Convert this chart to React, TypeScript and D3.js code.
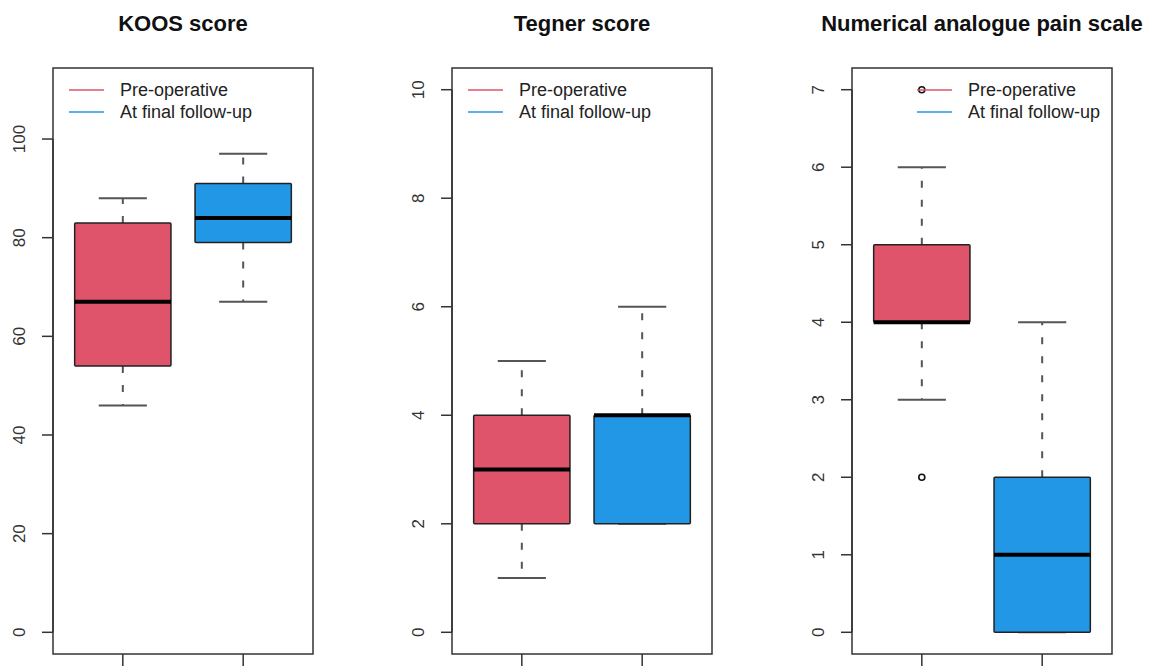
import React from 'react';
import * as d3 from 'd3';

// group labels and colours
const groups = ['Pre-operative', 'At final follow-up'];
const fills = ['#DF536B', '#2297E6'];

// five-number summaries: [lowWhisker, q1, median, q3, highWhisker]
const koosStats = [
  [46, 54, 67, 83, 88],
  [67, 79, 84, 91, 97],
];
const tegnerStats = [
  [1, 2, 3, 4, 5],
  [2, 2, 4, 4, 6],
];
const painStats = [
  [3, 4, 4, 5, 6],
  [0, 0, 1, 2, 4],
];

// outliers per group
const koosOut: number[][] = [[], []];
const tegnerOut: number[][] = [[], []];
const painOut: number[][] = [[2, 7], []];

const koosTicks = [0, 20, 40, 60, 80, 100];
const tegnerTicks = [0, 2, 4, 6, 8, 10];
const painTicks = [0, 1, 2, 3, 4, 5, 6, 7];

const panels = [
  { title: 'KOOS score', stats: koosStats, out: koosOut, ticks: koosTicks, ylim: [0, 110], left: 53, legend: 'left' },
  { title: 'Tegner score', stats: tegnerStats, out: tegnerOut, ticks: tegnerTicks, ylim: [0, 10], left: 452, legend: 'left' },
  { title: 'Numerical analogue pain scale', stats: painStats, out: painOut, ticks: painTicks, ylim: [0, 7], left: 852, legend: 'right' },
];

const W = 1151;
const H = 666;
const PW = 260;
const TOP = 68;
const BOTTOM = 654;
const FONT = '"Liberation Sans", Arial, sans-serif';

const Panel: React.FC<{ p: typeof panels[number] }> = ({ p }) => {
  const r = p.ylim[1] - p.ylim[0];
  const y = d3.scaleLinear()
    .domain([p.ylim[0] - 0.04 * r, p.ylim[1] + 0.04 * r])
    .range([BOTTOM, TOP]);
  const x = d3.scaleLinear().domain([0.42, 2.58]).range([p.left, p.left + PW]);
  const bw = x(0.8) - x(0);
  const cw = x(0.2) - x(0);
  const cx = (p.left + PW / 2);

  const legX = p.legend === 'left' ? p.left + 16 : p.left + 65;

  return (
    <g>
      <text x={cx} y={31} textAnchor="middle" fontFamily={FONT} fontWeight="bold" fontSize={22} fill="#111">
        {p.title}
      </text>

      {/* y axis */}
      <line x1={p.left} x2={p.left} y1={y(p.ticks[0])} y2={y(p.ticks[p.ticks.length - 1])} stroke="#333" strokeWidth={1.5} />
      {p.ticks.map(t => (
        <g key={t} transform={`translate(${p.left},${y(t)})`}>
          <line x1={-11} x2={0} stroke="#333" strokeWidth={1.5} />
          <text transform="translate(-34,0) rotate(-90)" textAnchor="middle" dy="0.35em"
            fontFamily={FONT} fontSize={17} fill="#333">{t}</text>
        </g>
      ))}

      {/* x axis ticks */}
      {[1, 2].map(i => (
        <line key={i} x1={x(i)} x2={x(i)} y1={BOTTOM} y2={H} stroke="#333" strokeWidth={1.5} />
      ))}

      {/* boxes */}
      {p.stats.map((s, i) => {
        const c = x(i + 1);
        return (
          <g key={i}>
            <line x1={c} x2={c} y1={y(s[3])} y2={y(s[4])} stroke="#555" strokeWidth={2} strokeDasharray="7,12" />
            <line x1={c} x2={c} y1={y(s[1])} y2={y(s[0])} stroke="#555" strokeWidth={2} strokeDasharray="7,12" />
            <line x1={c - cw} x2={c + cw} y1={y(s[4])} y2={y(s[4])} stroke="#555" strokeWidth={2} />
            <line x1={c - cw} x2={c + cw} y1={y(s[0])} y2={y(s[0])} stroke="#555" strokeWidth={2} />
            <rect x={c - bw / 2} y={y(s[3])} width={bw} height={y(s[1]) - y(s[3])}
              fill={fills[i]} stroke="#222" strokeWidth={1.5} rx={1} />
            <line x1={c - bw / 2} x2={c + bw / 2} y1={y(s[2])} y2={y(s[2])} stroke="#000" strokeWidth={4} />
            {p.out[i].map((o, k) => (
              <circle key={k} cx={c} cy={y(o)} r={3} fill="none" stroke="#111" strokeWidth={1.6} />
            ))}
          </g>
        );
      })}

      {/* frame */}
      <rect x={p.left} y={TOP} width={PW} height={BOTTOM - TOP} fill="none" stroke="#333" strokeWidth={1.5} />

      {/* legend */}
      {groups.map((g, i) => (
        <g key={g} transform={`translate(${legX},${90 + i * 22})`}>
          <line x1={0} x2={35} stroke={fills[i]} strokeOpacity={0.75} strokeWidth={1.8} />
          <text x={51} dy="0.35em" fontFamily={FONT} fontSize={18} fill="#222">{g}</text>
        </g>
      ))}
    </g>
  );
};

const App: React.FC = () => (
  <div style={{ position: 'fixed', left: 0, top: 0 }}>
    <svg width={W} height={H} style={{ display: 'block', background: '#fff' }}>
      {panels.map(p => <Panel key={p.title} p={p} />)}
    </svg>
  </div>
);

export default App;
